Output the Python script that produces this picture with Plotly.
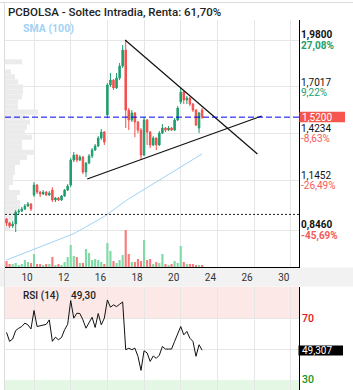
import plotly.graph_objects as go

W, H = 353, 390

title_text = "PCBOLSA - Soltec Intradia, Renta: 61,70%"
sma_label = "SMA (100)"
rsi_label = "RSI (14)"

# ---------------- data (hourly bars, bar index 0..64) ----------------
opens = [0.913, 0.889, 0.871, 0.883, 0.954, 0.960, 0.972, 0.990, 1.002, 1.056,
         1.115, 1.073, 1.062, 1.073, 1.056, 1.085, 1.026, 1.038, 1.026, 1.050,
         1.085, 1.115, 1.264, 1.294, 1.264, 1.282, 1.193, 1.246, 1.288, 1.324,
         1.348, 1.395, 1.431, 1.533, 1.712, 1.741, 1.694, 1.753, 1.825, 1.920,
         1.562, 1.503, 1.545, 1.491, 1.443, 1.294, 1.503, 1.431, 1.354, 1.395,
         1.354, 1.425, 1.455, 1.443, 1.455, 1.443, 1.503, 1.610, 1.670, 1.622,
         1.634, 1.598, 1.562, 1.455, 1.562]
highs = [0.919, 0.895, 0.901, 0.966, 0.972, 0.984, 1.002, 1.014, 1.008, 1.133,
         1.121, 1.079, 1.085, 1.079, 1.079, 1.102, 1.044, 1.044, 1.056, 1.091,
         1.121, 1.276, 1.312, 1.300, 1.294, 1.288, 1.252, 1.300, 1.336, 1.360,
         1.407, 1.449, 1.437, 1.723, 1.783, 1.747, 1.783, 1.843, 1.950, 1.980,
         1.574, 1.562, 1.551, 1.497, 1.455, 1.521, 1.509, 1.437, 1.407, 1.401,
         1.437, 1.479, 1.461, 1.467, 1.461, 1.515, 1.586, 1.694, 1.676, 1.646,
         1.640, 1.604, 1.568, 1.551, 1.574]
lows = [0.871, 0.859, 0.859, 0.835, 0.942, 0.954, 0.966, 0.984, 0.960, 1.044,
        1.062, 1.044, 1.056, 1.050, 1.050, 1.014, 1.014, 1.020, 1.020, 1.044,
        1.079, 1.102, 1.252, 1.252, 1.258, 1.181, 1.163, 1.240, 1.276, 1.318,
        1.342, 1.384, 1.354, 1.515, 1.700, 1.682, 1.688, 1.741, 1.813, 1.455,
        1.443, 1.491, 1.400, 1.425, 1.270, 1.288, 1.354, 1.336, 1.348, 1.324,
        1.348, 1.419, 1.431, 1.437, 1.437, 1.437, 1.497, 1.598, 1.598, 1.598,
        1.586, 1.551, 1.467, 1.425, 1.509]
closes = [0.889, 0.871, 0.883, 0.954, 0.960, 0.972, 0.990, 1.002, 0.972, 1.115,
          1.073, 1.062, 1.073, 1.056, 1.067, 1.026, 1.038, 1.026, 1.050, 1.085,
          1.109, 1.264, 1.294, 1.264, 1.282, 1.193, 1.246, 1.288, 1.324, 1.348,
          1.395, 1.431, 1.372, 1.712, 1.741, 1.694, 1.753, 1.825, 1.920, 1.562,
          1.503, 1.545, 1.491, 1.443, 1.294, 1.503, 1.431, 1.354, 1.395, 1.354,
          1.425, 1.455, 1.443, 1.455, 1.443, 1.503, 1.574, 1.670, 1.622, 1.634,
          1.598, 1.562, 1.473, 1.545, 1.520]
volume_k = [60, 30, 30, 40, 20, 30, 70, 50, 40, 130,
            30, 30, 20, 30, 30, 100, 20, 30, 20, 50,
            100, 220, 110, 100, 40, 40, 180, 140, 70, 80,
            70, 50, 30, 240, 160, 60, 40, 70, 120, 370,
            130, 50, 50, 80, 60, 270, 70, 80, 30, 50,
            40, 130, 30, 20, 30, 60, 40, 210, 50, 30,
            30, 30, 20, 20, 20]
sma100 = [0.668, 0.675, 0.682, 0.689, 0.696, 0.703, 0.710, 0.717, 0.724, 0.731,
          0.738, 0.745, 0.752, 0.759, 0.766, 0.773, 0.780, 0.787, 0.794, 0.801,
          0.808, 0.815, 0.825, 0.835, 0.845, 0.855, 0.866, 0.876, 0.886, 0.896,
          0.906, 0.916, 0.928, 0.941, 0.955, 0.968, 0.982, 0.995, 1.008, 1.021,
          1.033, 1.044, 1.055, 1.066, 1.077, 1.089, 1.100, 1.111, 1.122, 1.133,
          1.144, 1.156, 1.167, 1.178, 1.189, 1.200, 1.212, 1.223, 1.234, 1.245,
          1.256, 1.268, 1.279, 1.290, 1.301]
rsi14 = [60.8, 55.0, 56.5, 62.0, 63.5, 64.6, 66.8, 65.7, 63.0, 75.0,
         64.6, 65.0, 65.7, 66.0, 68.9, 55.0, 57.7, 56.0, 57.5, 62.5,
         66.0, 81.4, 70.0, 73.2, 73.0, 68.9, 63.5, 67.5, 70.6, 64.0,
         73.0, 65.7, 70.0, 81.8, 77.1, 78.6, 77.5, 79.0, 80.5, 49.6,
         50.5, 49.6, 50.6, 45.3, 36.2, 48.9, 47.5, 42.0, 45.5, 44.0,
         46.0, 51.7, 50.0, 50.0, 50.0, 55.0, 60.3, 64.6, 59.2, 61.4,
         57.0, 55.0, 45.3, 52.8, 49.307]

# volume profile (price level, relative volume)
profile_price = [1.85, 1.82, 1.79, 1.76, 1.73, 1.70, 1.67, 1.64, 1.61, 1.58,
                 1.55, 1.52, 1.49, 1.46, 1.43, 1.40, 1.37, 1.34, 1.31, 1.28,
                 1.25, 1.22, 1.19, 1.16, 1.13, 1.10, 1.07, 1.04, 1.01, 0.98,
                 0.95, 0.92, 0.89, 0.86]
profile_vol = [17, 0, 6, 10, 13, 18, 18, 17, 13, 13,
               33, 20, 25, 22, 20, 27, 17, 17, 30, 22,
               15, 10, 10, 8, 8, 4, 15, 12, 15, 15,
               10, 8, 6, 5]

# trend lines (bar index, price)
resist_x = [38.8, 82.1]
resist_y = [1.980, 1.300]
support_x = [26.4, 83.5]
support_y = [1.151, 1.527]

day_labels = ["10", "12", "16", "18", "20", "24", "26", "30"]
first_label_bar = 9
bars_per_day = 6

price_ticks = [1.9800, 1.7017, 1.4234, 1.1452, 0.8460]
price_tick_text = ["1,9800", "1,7017", "1,4234", "1,1452", "0,8460"]
pct_text = ["27,08%", "9,22%", "-8,63%", "-26,49%", "-45,69%"]
tick_bold = [True, False, False, False, True]

last_price = 1.52
last_price_text = "1,5200"
renta = 0.617
rsi_last_text = "49,307"
rsi_title_value = "49,30"

# ---------------- styling / layout ----------------
FONT = "Roboto"
GREEN = "#1f9d6d"
RED = "#f4504d"
VGREEN = "#80da a6".replace(" ", "")
VRED = "#f87c7c"
GRID = "#e6e6e6"

def pxx(x):
    return x / W

def pxy(y):
    return 1 - y / H

n = len(closes)
bars = list(range(n))
ups = [c >= o for o, c in zip(opens, closes)]

X_RANGE = [-0.5, 95.7]
Y_RANGE = [0.6264, 2.0993]
MAIN_DOM = [pxy(267), pxy(20)]
RSI_DOM = [0, pxy(286.5)]
RSI_RANGE = [23.5, 90.5]
XDOM = [pxx(5), pxx(299)]
px_per_price = 1 / 0.005963

fig = go.Figure()

# volume profile behind candles
profile_scale = 1 / 3.056
fig.add_trace(go.Bar(
    y=profile_price, x=[v * profile_scale for v in profile_vol], base=X_RANGE[0],
    orientation="h", width=0.03, marker=dict(color="#ebebeb", line=dict(width=0)),
    xaxis="x", yaxis="y", hoverinfo="skip", showlegend=False))

fig.add_trace(go.Scatter(
    x=bars, y=sma100, mode="lines", line=dict(color="#9fd2f6", width=1),
    xaxis="x", yaxis="y", hoverinfo="skip", showlegend=False))

fig.add_trace(go.Candlestick(
    x=bars, open=opens, high=highs, low=lows, close=closes,
    increasing=dict(line=dict(color=GREEN, width=1), fillcolor=GREEN),
    decreasing=dict(line=dict(color=RED, width=1), fillcolor=RED),
    whiskerwidth=0, xaxis="x", yaxis="y", showlegend=False))

fig.add_trace(go.Scatter(x=resist_x, y=resist_y, mode="lines",
                         line=dict(color="#111", width=1.2), xaxis="x", yaxis="y",
                         showlegend=False, hoverinfo="skip"))
fig.add_trace(go.Scatter(x=support_x, y=support_y, mode="lines",
                         line=dict(color="#111", width=1.2), xaxis="x", yaxis="y",
                         showlegend=False, hoverinfo="skip"))

fig.add_trace(go.Bar(
    x=bars, y=volume_k, width=0.7,
    marker=dict(color=[VGREEN if u else VRED for u in ups], line=dict(width=0)),
    xaxis="x", yaxis="y2", showlegend=False, hoverinfo="skip"))

fig.add_trace(go.Scatter(
    x=bars, y=rsi14, mode="lines", line=dict(color="#111", width=1),
    xaxis="x2", yaxis="y3", showlegend=False, hoverinfo="skip"))

grid_bars = [first_label_bar + 2 * bars_per_day * k for k in range(len(day_labels))]

fig.update_layout(
    width=W, height=H, margin=dict(l=0, r=0, t=0, b=0),
    paper_bgcolor="white", plot_bgcolor="rgba(0,0,0,0)",
    barmode="overlay", showlegend=False, hovermode=False,
    font=dict(family=FONT, size=10, color="#222"),
    xaxis=dict(domain=XDOM, range=X_RANGE, anchor="y", tickvals=grid_bars,
               ticktext=day_labels, showgrid=True, gridcolor=GRID, gridwidth=1,
               showline=True, linecolor="#000", linewidth=1, ticks="",
               tickfont=dict(size=10, color="#333"), ticklabelshift=-7,
               ticklabelstandoff=1, zeroline=False,
               rangeslider=dict(visible=False)),
    yaxis=dict(domain=MAIN_DOM, range=Y_RANGE, side="right", anchor="x",
               tickvals=price_ticks, showticklabels=False, showgrid=True,
               gridcolor=GRID, showline=True, linecolor="#000", linewidth=1,
               ticks="", zeroline=False),
    yaxis2=dict(overlaying="y", range=[0, 2470], visible=False, anchor="x"),
    xaxis2=dict(domain=XDOM, range=X_RANGE, anchor="y3", tickvals=grid_bars,
                showticklabels=False, showgrid=True, gridcolor=GRID,
                showline=False, ticks="", zeroline=False),
    yaxis3=dict(domain=RSI_DOM, range=RSI_RANGE, side="right", anchor="x2",
                tickvals=[50, 70], showticklabels=False, showgrid=True,
                gridcolor=GRID, showline=True, linecolor="#000", linewidth=1,
                ticks="", zeroline=False),
)

shapes = [
    # band between panels
    dict(type="rect", xref="paper", yref="paper", x0=0, x1=1,
         y0=pxy(286.5), y1=pxy(267.5), fillcolor="#f2f2f2", line=dict(width=0),
         layer="below"),
    # borders
    dict(type="line", xref="paper", yref="paper", x0=0, x1=1, y0=pxy(2.5), y1=pxy(2.5),
         line=dict(color="#dcdcdc", width=1), layer="below"),
    dict(type="line", xref="paper", yref="paper", x0=pxx(4.5), x1=pxx(4.5), y0=0, y1=pxy(2.5),
         line=dict(color="#dcdcdc", width=1), layer="below"),
    # RSI zones
    dict(type="rect", xref="x2 domain", yref="y3", x0=0, x1=1, y0=70, y1=RSI_RANGE[1],
         fillcolor="#fde8e8", line=dict(width=0), layer="below"),
    dict(type="rect", xref="x2 domain", yref="y3", x0=0, x1=1, y0=RSI_RANGE[0], y1=30,
         fillcolor="#e4f6e4", line=dict(width=0), layer="below"),
    # last price dashed line
    dict(type="line", xref="x domain", yref="y", x0=0, x1=1, y0=last_price, y1=last_price,
         line=dict(color="#0000f0", width=1, dash="6px,3px")),
    # purchase price dotted line
    dict(type="line", xref="x domain", yref="y", x0=0, x1=1,
         y0=last_price / (1 + renta), y1=last_price / (1 + renta),
         line=dict(color="#222", width=1, dash="2px,2px")),
    # price tag background
    dict(type="rect", xref="paper", yref="y", x0=pxx(299.5), x1=pxx(345),
         y0=last_price - 5 / px_per_price, y1=last_price + 5.5 / px_per_price,
         fillcolor="#f5574f", line=dict(width=0)),
    # rsi value tag
    dict(type="rect", xref="paper", yref="y3", x0=pxx(298.5), x1=pxx(343),
         y0=49.307 - 3.4, y1=49.307 + 3.0, fillcolor="#000", line=dict(width=0)),
]

ann = []
ann.append(dict(text=title_text, xref="paper", yref="paper", x=pxx(5.5), y=pxy(12.5),
                xanchor="left", yanchor="middle", showarrow=False,
                font=dict(family=FONT, size=11.5, color="#222", weight=500)))
ann.append(dict(text=sma_label, xref="paper", yref="paper", x=pxx(20.5), y=pxy(28.5),
                xanchor="left", yanchor="middle", showarrow=False,
                font=dict(family=FONT, size=10.5, color="#9fd2f6", weight="bold")))
for v, t, p, b in zip(price_ticks, price_tick_text, pct_text, tick_bold):
    col = "#22a06b" if not p.startswith("-") else "#f45a5a"
    ann.append(dict(text=t, xref="paper", yref="y", x=pxx(300), y=v, xanchor="left",
                    yanchor="bottom", showarrow=False, borderpad=0, yshift=-2,
                    font=dict(family=FONT, size=10, color="#111",
                              weight="bold" if b else "normal")))
    ann.append(dict(text=p, xref="paper", yref="y", x=pxx(300), y=v, xanchor="left",
                    yanchor="top", showarrow=False, borderpad=0, yshift=1,
                    font=dict(family=FONT, size=10, color=col,
                              weight="bold" if b else "normal")))
ann.append(dict(text=last_price_text, xref="paper", yref="y", x=pxx(300.5), y=last_price,
                xanchor="left", yanchor="middle", showarrow=False, borderpad=0,
                font=dict(family=FONT, size=10, color="white")))
ann.append(dict(text=rsi_label, xref="paper", yref="paper", x=pxx(20.5), y=pxy(296),
                xanchor="left", yanchor="middle", showarrow=False,
                font=dict(family=FONT, size=10, color="#222", weight=500)))
ann.append(dict(text=rsi_title_value, xref="paper", yref="paper", x=pxx(69), y=pxy(296),
                xanchor="left", yanchor="middle", showarrow=False,
                font=dict(family=FONT, size=10, color="#222", weight=500)))
ann.append(dict(text="70", xref="paper", yref="y3", x=pxx(300), y=70, xanchor="left",
                yanchor="middle", showarrow=False,
                font=dict(family=FONT, size=10.5, color="#e41414", weight=500)))
ann.append(dict(text="30", xref="paper", yref="y3", x=pxx(300), y=30, xanchor="left",
                yanchor="middle", showarrow=False,
                font=dict(family=FONT, size=10.5, color="#15921b", weight=500)))
ann.append(dict(text=rsi_last_text, xref="paper", yref="y3", x=pxx(300.5), y=49.307,
                xanchor="left", yanchor="middle", showarrow=False, borderpad=0,
                font=dict(family=FONT, size=10, color="white")))

fig.update_layout(shapes=shapes, annotations=ann)
fig.write_html("out.html")
